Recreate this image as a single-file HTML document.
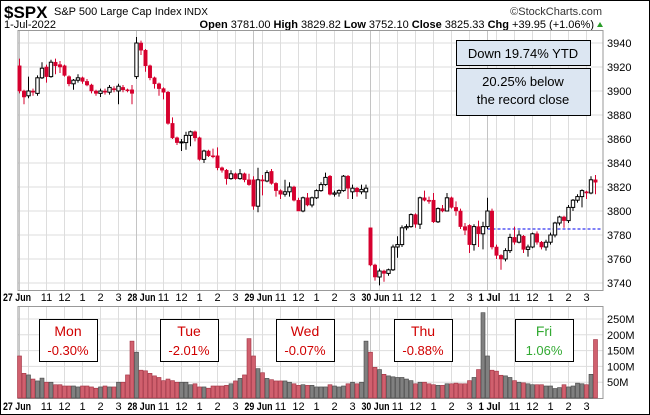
<!DOCTYPE html>
<html><head><meta charset="utf-8">
<style>
html,body{margin:0;padding:0;background:#fff;}
svg{display:block;font-family:"Liberation Sans",sans-serif;}
</style></head>
<body>
<svg id="chart" width="650" height="415" viewBox="0 0 650 415">
  <rect x="0.5" y="0.5" width="649" height="414" fill="#fff" stroke="#000"/>
  <text x="4" y="18" font-size="17" font-weight="bold">$SPX</text>
  <text x="54" y="15" font-size="11">S&amp;P 500 Large Cap Index</text>
  <text x="184" y="15" font-size="10">INDX</text>
  <text x="602" y="15" font-size="11" text-anchor="end" fill="#333">©StockCharts.com</text>
  <text x="4" y="28" font-size="11">1-Jul-2022</text>
  <text x="594" y="28" font-size="11" text-anchor="end"><tspan font-weight="bold">Open</tspan> 3781.00 <tspan font-weight="bold">High</tspan> 3829.82 <tspan font-weight="bold">Low</tspan> 3752.10 <tspan font-weight="bold">Close</tspan> 3825.33 <tspan font-weight="bold">Chg</tspan> +39.95 (+1.06%)</text>
  <path d="M597,27 L603,27 L600,22 Z" fill="#2a9d2a"/>
  <g id="grid"></g>
  <rect x="18" y="30.5" width="585" height="260" fill="none" stroke="#999"/>
  <rect x="18" y="306.5" width="585" height="92" fill="none" stroke="#999"/>
  <g id="vol"></g>
  <g id="candles"></g>
  <g id="labels"></g>
  <g>
    <rect x="456.5" y="40.5" width="134" height="25" fill="#dce6f2" stroke="#000"/>
    <text x="523" y="58" font-size="13" text-anchor="middle">Down 19.74% YTD</text>
  </g>
  <g>
    <rect x="456.5" y="68.5" width="134" height="47" fill="#dce6f2" stroke="#000"/>
    <text x="523" y="86" font-size="13" text-anchor="middle">20.25%  below</text>
    <text x="523" y="104" font-size="13" text-anchor="middle">the record close</text>
  </g>
  <g id="days"></g>
</svg>
<script>
const NS='http://www.w3.org/2000/svg';
const opens=[3921,3900,3896,3900,3898,3911,3920,3912,3924,3922,3921,3912,3906,3909,3911,3908,3905,3900,3898,3900,3899,3902,3900,3903,3901,3901,
3912,3940,3934,3921,3911,3906,3902,3899,3873,3861,3857,3857,3863,3866,3861,3843,3850,3846,3846,3836,3834,3827,3831,3827,3831,3826,
3826,3804,3826,3825,3833,3823,3817,3814,3816,3820,3809,3800,3811,3805,3811,3817,3822,3829,3814,3815,3817,3829,3816,3819,3816,3816,
3786,3755,3745,3750,3748,3751,3770,3772,3786,3787,3797,3789,3811,3809,3809,3791,3802,3800,3811,3803,3800,3787,3788,3772,3787,3781,
3787,3800,3770,3763,3760,3767,3778,3774,3779,3768,3770,3781,3774,3770,3774,3780,3790,3795,3792,3803,3809,3812,3816,3815,3826];
const highs=[3927,3901,3912,3902,3913,3924,3922,3926,3927,3925,3922,3913,3910,3914,3912,3910,3906,3901,3902,3902,3905,3904,3906,3905,3902,3905,
3945,3942,3935,3922,3912,3907,3903,3900,3878,3862,3860,3866,3867,3867,3862,3851,3851,3852,3853,3837,3835,3834,3832,3835,3832,3831,
3829,3836,3830,3834,3835,3824,3818,3826,3824,3821,3811,3812,3815,3812,3818,3824,3832,3830,3817,3818,3830,3830,3822,3820,3822,3822,
3786,3756,3752,3751,3752,3772,3779,3788,3789,3798,3798,3812,3817,3812,3815,3803,3805,3815,3812,3808,3802,3790,3789,3789,3792,3791,
3811,3802,3772,3764,3769,3781,3787,3784,3780,3772,3782,3783,3775,3776,3782,3791,3796,3796,3805,3810,3814,3818,3817,3829,3830];
const lows=[3898,3889,3894,3896,3896,3910,3907,3911,3914,3915,3912,3904,3901,3907,3906,3904,3898,3896,3895,3897,3897,3899,3889,3899,3899,3889,
3910,3930,3916,3909,3902,3896,3893,3872,3860,3855,3850,3851,3854,3858,3842,3840,3845,3844,3834,3832,3822,3826,3826,3826,3824,3821,
3801,3799,3813,3824,3822,3812,3810,3812,3812,3808,3800,3799,3804,3803,3810,3816,3821,3813,3812,3812,3816,3810,3810,3812,3814,3810,
3754,3742,3738,3741,3746,3750,3761,3770,3784,3786,3786,3785,3808,3806,3790,3790,3799,3800,3802,3796,3785,3780,3765,3767,3770,3768,
3785,3768,3760,3751,3758,3765,3772,3773,3765,3762,3769,3772,3768,3767,3772,3778,3788,3786,3790,3800,3807,3803,3810,3814,3814];
const closes=[3900,3895,3900,3899,3911,3919,3912,3924,3921,3920,3913,3906,3909,3911,3908,3905,3900,3898,3900,3899,3903,3901,3904,3901,3900.5,3898,
3940,3934,3921,3911,3906,3902,3899,3873,3861,3857,3857.6,3863,3866,3861,3843,3850,3846,3845.5,3836,3834,3827,3831,3827,3831,3826,3822,
3804,3826,3825,3832,3823,3817,3814,3816,3820,3809,3800,3811,3805,3811,3817,3822,3828,3814,3815,3817,3829,3819,3819,3816,3818,3819,
3755,3745,3750,3748,3751,3770,3772,3786,3787,3797,3789,3811,3809,3808,3791,3802,3800,3811,3803,3800,3787,3784,3772,3787,3781,3787,
3800,3770,3763,3760,3767,3778,3774,3780,3768,3770,3781,3774,3770,3774,3780,3790,3795,3792,3803,3809,3812,3817,3815,3826,3824];
const volumes=[133,78,73,60,54,63,50,50,42,42,38,38,38,35,38,38,35,31,35,38,35,35,50,50,73,180,
145,88,86,78,70,65,55,60,55,50,50,50,42,45,35,35,31,38,38,38,40,45,54,62,73,188,
133,93,80,62,58,54,54,54,50,45,40,42,40,40,35,35,35,42,38,35,38,45,50,45,50,180,
145,97,90,75,70,67,65,65,60,55,45,50,50,45,42,40,40,45,45,47,45,45,55,65,90,270,
133,88,85,72,70,65,55,50,48,45,42,42,42,38,38,30,33,42,35,38,47,45,42,75,185];
const priceTicks=[3740,3760,3780,3800,3820,3840,3860,3880,3900,3920,3940];
const volTicks=[50,100,150,200,250];
const dayLabels=['27 Jun','28 Jun','29 Jun','30 Jun','1 Jul'];
const hourLabels=['11','12','1','2','3'];
const dayOpenBars=[0,26,52,78,104];
const hourOffsets=[6,10,14,18,22];
const refLine=3785;

function xB(i){return 19.5+4.5*i;}
function yP(p){return 43+(3940-p)*1.2;}
function yV(v){return 398-v*0.316;}
function mk(tag,attrs,parent){const e=document.createElementNS(NS,tag);for(const k in attrs)e.setAttribute(k,attrs[k]);parent.appendChild(e);return e;}

const grid=document.getElementById('grid');
priceTicks.forEach(t=>{
  const l=mk('line',{x1:18,x2:603,y1:yP(t),y2:yP(t),stroke:'#ddd'},grid);
  
  
  const tx=mk('text',{x:607,y:yP(t)+4,'font-size':11},grid);
  tx.textContent=t;
  
  
});
volTicks.forEach(t=>{
  const l=mk('line',{x1:18,x2:603,y1:yV(t),y2:yV(t),stroke:'#ddd'},grid);
  
  
  const tx=mk('text',{x:607,y:yV(t)+4,'font-size':11},grid);
  tx.textContent=t+'M';
  
  
});
const labels=document.getElementById('labels');
dayOpenBars.forEach((b,d)=>{
  const offs=[2].concat(hourOffsets);
  offs.forEach(o=>{
    [[30,290],[306,398]].forEach(r=>{
      const l=mk('line',{x1:xB(b+o),x2:xB(b+o),y1:r[0],y2:r[1],stroke:'#ddd'},grid);
      
      
    });
  });
  [[30,290],[306,398]].forEach(r=>{
    const l=mk('line',{x1:xB(b),x2:xB(b),y1:r[0],y2:r[1],stroke:'#c4c4c4'},grid);
    
    
  });
  [301,410].forEach(yy=>{
    const t=mk('text',{x:d==0?3:xB(b)-9,y:yy,'font-size':11,'font-weight':'bold',textLength:dayLabels[d].length>5?28:22,lengthAdjust:'spacingAndGlyphs'},labels);
    t.textContent=dayLabels[d];
    
    
    hourOffsets.forEach((o,k)=>{
      const h=mk('text',{x:xB(b+o),y:yy,'font-size':11,'text-anchor':'middle'},labels);
      h.textContent=hourLabels[k];
      
      
    });
  });
});
const rl=mk('line',{x1:xB(104),x2:603,y1:yP(refLine),y2:yP(refLine),stroke:'#0000ee','stroke-dasharray':'3,2'},grid);



const cg=document.getElementById('candles');
const vg=document.getElementById('vol');
closes.forEach((c,i)=>{
  const o=opens[i],up=c>=o,x=xB(i);
  const w=mk('line',{x1:x,x2:x,y1:yP(highs[i]),y2:yP(lows[i]),stroke:up?'#000':'#d6002e','stroke-width':1},cg);
  
  
  const top=yP(Math.max(o,c)),bot=yP(Math.min(o,c));
  const r=mk('rect',{x:x-1.7,y:top,width:3.4,height:Math.max(1,bot-top),fill:up?'#fff':'#d6002e',stroke:up?'#000':'#d6002e','stroke-width':up?1:0.5},cg);
  
  
  const v=volumes[i];
  const vb=mk('rect',{x:x-2,y:yV(v),width:4,height:398-yV(v),fill:up?'#808080':'#d0606e',stroke:up?'#444':'#a03040','stroke-width':0.6},vg);
  
  
});

const dayNames=['Mon','Tue','Wed','Thu','Fri'];
const dayChanges=['-0.30%','-2.01%','-0.07%','-0.88%','1.06%'];
const boxX=[39,160,276,394,515];
const dg=document.getElementById('days');
dayNames.forEach((n,k)=>{
  const g=mk('g',{},dg);
  
  
  mk('rect',{x:boxX[k]+0.5,y:319.5,width:58,height:42,fill:'#fff',stroke:'#000'},g);
  const col=dayChanges[k][0]=='-'?'#d00000':'#33aa33';
  const t1=mk('text',{x:boxX[k]+29,y:336,'font-size':14,'text-anchor':'middle',fill:col},g);
  t1.textContent=n;
  const t2=mk('text',{x:boxX[k]+29,y:355,'font-size':13,'text-anchor':'middle',fill:col},g);
  t2.textContent=dayChanges[k];
});
</script>
</body></html>
